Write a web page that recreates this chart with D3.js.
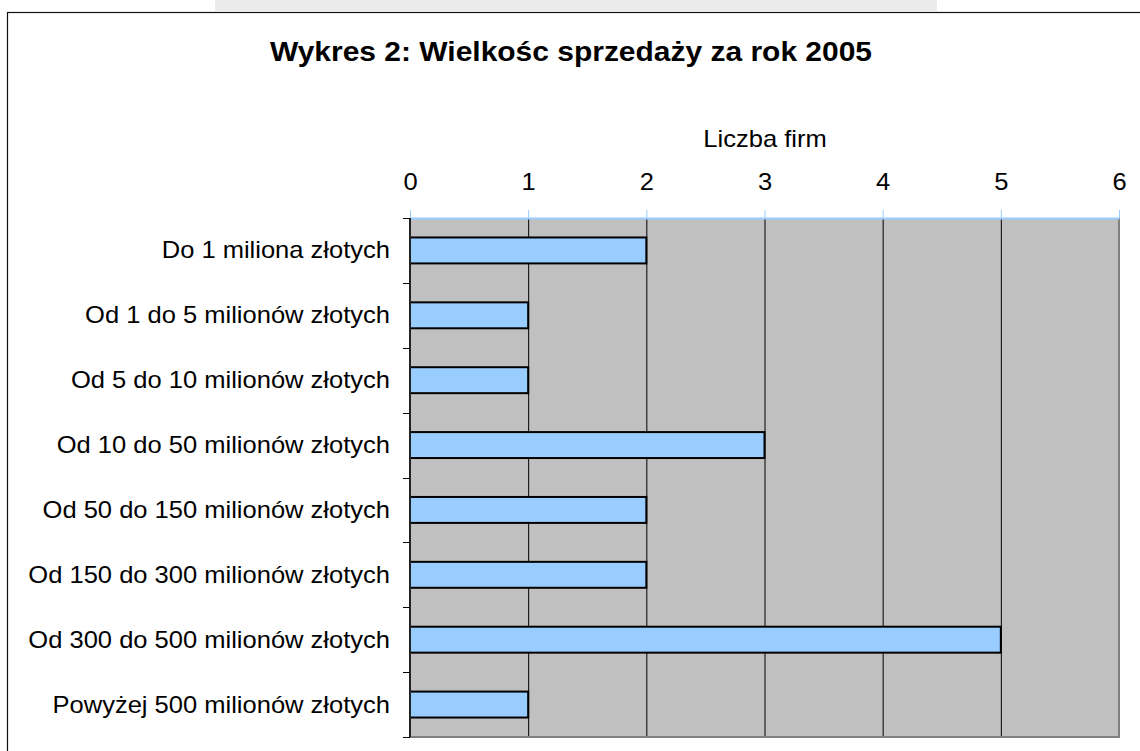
<!DOCTYPE html>
<html>
<head>
<meta charset="utf-8">
<script src="https://cdn.jsdelivr.net/npm/d3@7"></script>
<style>
  body { margin: 0; background: #fff; }
  svg { display: block; font-family: Arial, "Liberation Sans", sans-serif; }
</style>
</head>
<body>
<svg id="chart"></svg>
<script>
const categories = [
  "Do 1 miliona złotych",
  "Od 1 do 5 milionów złotych",
  "Od 5 do 10 milionów złotych",
  "Od 10 do 50 milionów złotych",
  "Od 50 do 150 milionów złotych",
  "Od 150 do 300 milionów złotych",
  "Od 300 do 500 milionów złotych",
  "Powyżej 500 milionów złotych"
];
const values = [2, 1, 1, 3, 2, 2, 5, 1];
const xTicks = [0, 1, 2, 3, 4, 5, 6];
const title = "Wykres 2: Wielkośc sprzedaży za rok 2005";
const axisTitle = "Liczba firm";

const W = 1140, H = 751;
const plot = { left: 410, right: 1119, top: 218, bottom: 737 };
const stretch = 1.11; // the original picture is a bit wider than tall

const svg = d3.select("#chart").attr("width", W).attr("height", H);

function label(g, tx, ty, txt, size, anchor) {
  return g.append("text")
    .attr("transform", `translate(${tx},${ty}) scale(${stretch},1)`)
    .attr("text-anchor", anchor)
    .attr("font-size", size)
    .text(txt);
}

// faint strip above the frame
svg.append("rect")
  .attr("x", 215).attr("y", 0).attr("width", 722).attr("height", 11)
  .attr("fill", "#ebebeb");

// outer frame
svg.append("rect")
  .attr("x", 7.5).attr("y", 12.5)
  .attr("width", 1140).attr("height", 800)
  .attr("fill", "#fff").attr("stroke", "#111").attr("stroke-width", 1.2);

label(svg, 571, 61, title, 27, "middle").attr("font-weight", "bold");

const x = d3.scaleLinear().domain([0, 6]).range([plot.left, plot.right]);
const y = d3.scaleBand().domain(categories)
  .range([plot.top, plot.bottom])
  .paddingInner(0.6).paddingOuter(0.3);
const yCat = d3.scaleBand().domain(categories).range([plot.top, plot.bottom]);

// plot background
svg.append("rect")
  .attr("x", plot.left).attr("y", plot.top)
  .attr("width", plot.right - plot.left).attr("height", plot.bottom - plot.top)
  .attr("fill", "#c0c0c0");

// gridlines
svg.append("g").selectAll("line")
  .data(xTicks.slice(1, -1))
  .join("line")
  .attr("x1", (d) => x(d) + 0.5).attr("x2", (d) => x(d) + 0.5)
  .attr("y1", plot.top).attr("y2", plot.bottom)
  .attr("stroke", "#000").attr("stroke-width", 1);

// right / bottom plot border
svg.append("path")
  .attr("d", `M${plot.right},${plot.top}V${plot.bottom}H${plot.left}`)
  .attr("fill", "none").attr("stroke", "#808080").attr("stroke-width", 2);

// bars
svg.append("g").selectAll("rect")
  .data(values)
  .join("rect")
  .attr("x", x(0))
  .attr("y", (d, i) => y(categories[i]))
  .attr("width", (d) => x(d) - x(0))
  .attr("height", y.bandwidth())
  .attr("fill", "#99ccff")
  .attr("stroke", "#000").attr("stroke-width", 2);

// top axis
const xAxis = d3.axisTop(x).tickValues(xTicks).tickFormat(d3.format("d"))
  .tickSize(8).tickPadding(20).tickSizeOuter(0);
const gx = svg.append("g")
  .attr("transform", `translate(0,${plot.top})`)
  .call(xAxis);
gx.select(".domain").attr("stroke", "#99ccff").attr("stroke-width", 2);
gx.selectAll(".tick line").attr("stroke", "#99ccff");
gx.selectAll(".tick text")
  .attr("font-size", 23).attr("fill", "#000")
  .attr("font-family", "Arial, 'Liberation Sans', sans-serif")
  .attr("transform", `scale(${stretch},1)`);

label(svg, 765, 147, axisTitle, 23, "middle");

// left axis
const gy = svg.append("g");
gy.append("line")
  .attr("x1", plot.left).attr("x2", plot.left)
  .attr("y1", plot.top).attr("y2", plot.bottom)
  .attr("stroke", "#222").attr("stroke-width", 2);
const boundaries = categories.map((c) => yCat(c)).concat([plot.bottom]);
gy.selectAll("line.tk")
  .data(boundaries)
  .join("line")
  .attr("class", "tk")
  .attr("x1", plot.left - 7).attr("x2", plot.left)
  .attr("y1", (d) => Math.round(d) + 0.5).attr("y2", (d) => Math.round(d) + 0.5)
  .attr("stroke", "#000");
categories.forEach((c) => {
  label(gy, 390, yCat(c) + yCat.bandwidth() / 2, c, 23, "end").attr("dy", "0.35em");
});
</script>
</body>
</html>
